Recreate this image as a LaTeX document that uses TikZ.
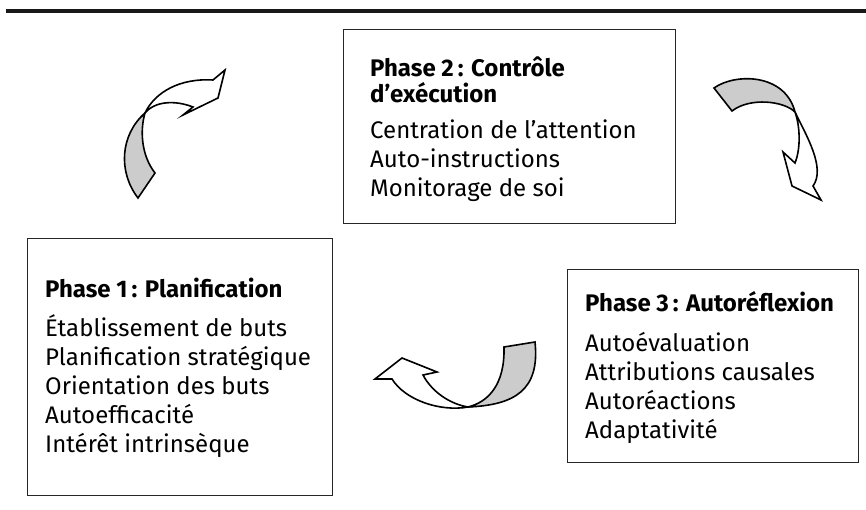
\documentclass[tikz,border=0pt]{standalone}
\usepackage{fontspec}
\setmainfont{Fira Sans}
\usetikzlibrary{positioning}

\tikzset{
  phasebox/.style={draw=black!85, line width=1.1pt, anchor=north west, inner sep=0pt},
  phasetext/.style={align=left, inner sep=0pt, font=\fontsize{24}{29}\selectfont},
  ribbonback/.style={draw=black, line width=1.6pt, fill=black!20, line join=miter},
  ribbonfront/.style={draw=black, line width=1.6pt, fill=white, line join=miter},
}

\begin{document}
\begin{tikzpicture}[x=1pt,y=-1pt]
   \useasboundingbox (0,0) rectangle (866,510);

   % rule under the title
   \draw[line width=3.3pt, black!90] (6,11) -- (866,11);

   % the three phases
   \node[phasebox, minimum width=305pt, minimum height=257pt] (ph1) at (27,238) {};
   \node[phasebox, minimum width=332pt, minimum height=194pt] (ph2) at (343,29) {};
   \node[phasebox, minimum width=291pt, minimum height=193pt] (ph3) at (567,269) {};

   \node[phasetext, below right=40pt and 18pt of ph1.north west] (ph1txt)
      {\textbf{Phase 1\,: Planification}\\[10pt]
       Établissement de buts\\
       Planification stratégique\\
       Orientation des buts\\
       Autoefficacité\\
       Intérêt intrinsèque};
   \node[phasetext, below right=28pt and 27pt of ph2.north west] (ph2txt)
      {\textbf{Phase 2\,: Contrôle}\\[-3pt]
       \textbf{d’exécution}\\[7pt]
       Centration de l’attention\\
       Auto-instructions\\
       Monitorage de soi};
   \node[phasetext, below right=22pt and 18pt of ph3.north west] (ph3txt)
      {\textbf{Phase 3\,: Autoréflexion}\\[11pt]
       Autoévaluation\\
       Attributions causales\\
       Autoréactions\\
       Adaptativité};

   % arrow 1 -> 2
   \draw[ribbonback] (138,198) .. controls (118,172) and (120,135) .. (145,113)
      .. controls (140,130) and (141,155) .. (155,173) -- cycle;
   \draw[ribbonfront] (145,113) .. controls (155,92) and (180,78) .. (213,80)
      -- (225,70) -- (218,98) -- (183,115) -- (193,107)
      .. controls (175,100) and (155,101) .. (145,113) -- cycle;

   % arrow 2 -> 3
   \draw[ribbonback] (714,88) .. controls (735,73) and (785,73) .. (795,112)
      .. controls (784,101) and (750,97) .. (732,111) -- cycle;
   \draw[ribbonfront] (795,112) .. controls (806,135) and (826,168) .. (813,186)
      -- (821,200) -- (792,186) -- (783,152) -- (795,163)
      .. controls (801,148) and (800,126) .. (795,112) -- cycle;

   % arrow 3 -> 1
   \draw[ribbonback] (535,342) .. controls (540,390) and (515,405) .. (468,407)
      .. controls (488,402) and (505,385) .. (504,347) -- cycle;
   \draw[ribbonfront] (468,407) .. controls (440,412) and (405,400) .. (392,379)
      -- (375,379) -- (402,358) -- (437,372) -- (423,375)
      .. controls (432,392) and (450,404) .. (468,407) -- cycle;
\end{tikzpicture}
\end{document}
